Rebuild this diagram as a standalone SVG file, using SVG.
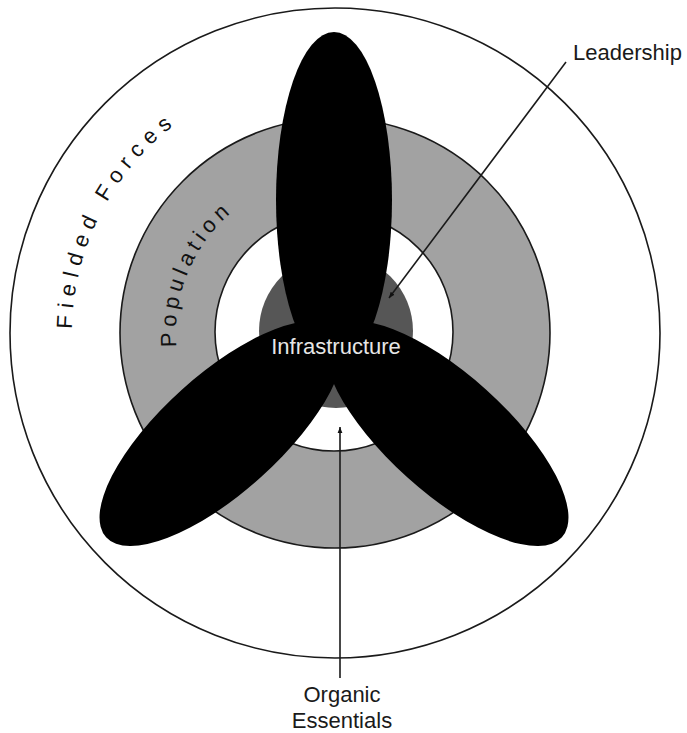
<svg xmlns="http://www.w3.org/2000/svg" width="687" height="733" viewBox="0 0 687 733">
  <style>
    .ring { stroke: #1a1a1a; stroke-width: 1.6; }
    .petal { fill: #000000; }
    .lbl { font-family: "Liberation Sans", Arial, Helvetica, sans-serif; font-size: 22px; fill: #1a1a1a; }
    .arc { font-family: "Liberation Sans", Arial, Helvetica, sans-serif; font-size: 22px; fill: #111111; }
    .lead { stroke: #1a1a1a; stroke-width: 1.6; fill: none; }
  </style>
  <defs>
    <marker id="arrow" viewBox="0 0 10 10" refX="10" refY="5" markerWidth="6" markerHeight="6" markerUnits="userSpaceOnUse" orient="auto">
      <path d="M0,1 L10,5 L0,9 Z" fill="#111111"/>
    </marker>
    <path id="ffPath" d="M 72,333 A 263,263 0 0 1 598,333"/>
    <path id="popPath" d="M 176.6,346.9 A 159,159 0 1 1 493.4,346.9"/>
  </defs>
  <rect width="687" height="733" fill="#ffffff"/>

  <g id="fielded-forces">
    <circle class="ring" cx="335" cy="333" r="325" fill="#ffffff"/>
    <text class="arc" letter-spacing="6.8"><textPath href="#ffPath" startOffset="4">Fielded Forces</textPath></text>
  </g>

  <g id="population">
    <circle class="ring" cx="335" cy="333" r="215" fill="#a2a2a2"/>
    <text class="arc" letter-spacing="5"><textPath href="#popPath" startOffset="0">Population</textPath></text>
  </g>

  <g id="organic-essentials">
    <circle class="ring" cx="334" cy="332" r="119" fill="#ffffff"/>
    <text class="lbl" text-anchor="middle" x="342" y="702">Organic</text>
    <text class="lbl" text-anchor="middle" x="342" y="728">Essentials</text>
  </g>

  <g id="leadership">
    <circle cx="336" cy="331" r="77" fill="#565656"/>
    <text class="lbl" x="573" y="60">Leadership</text>
  </g>

  <g id="infrastructure">
    <ellipse class="petal" cx="334" cy="200" rx="58" ry="168"/>
    <ellipse class="petal" cx="221.3" cy="433.5" rx="155" ry="59" transform="rotate(-42 221.3 433.5)"/>
    <ellipse class="petal" cx="446.7" cy="433.5" rx="155" ry="59" transform="rotate(42 446.7 433.5)"/>
    <text class="lbl" text-anchor="middle" x="336" y="354" style="fill:#e6e6e6">Infrastructure</text>
  </g>

  <g id="connectors">
    <line class="lead" x1="566" y1="62" x2="389" y2="298" marker-end="url(#arrow)"/>
    <line class="lead" x1="340" y1="678" x2="340" y2="427" marker-end="url(#arrow)"/>
  </g>
</svg>
